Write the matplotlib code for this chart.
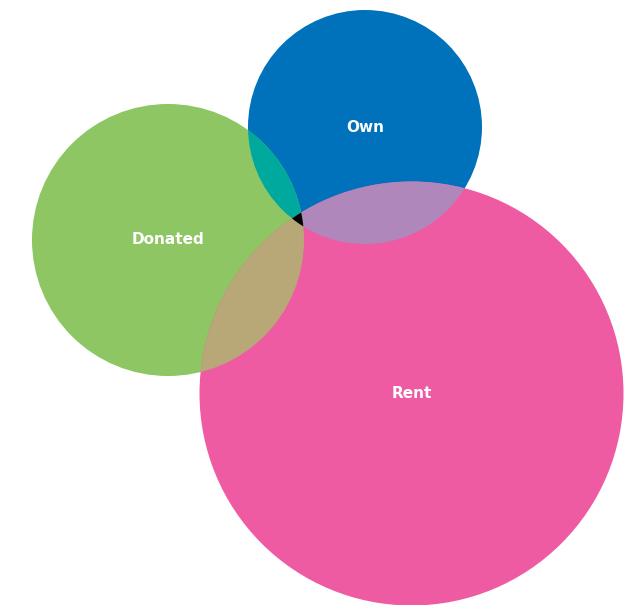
import matplotlib
matplotlib.use("Agg")
import matplotlib.pyplot as plt
import numpy as np
from matplotlib.patches import Circle, Polygon

# circles in pixel coordinates of the reference picture
names = ["Own", "Donated", "Rent"]
centers_x = [365, 168, 411.5]
centers_y = [127, 240, 393.5]
radii = [117, 136, 212]
colors = ["#0072bc", "#8dc663", "#ee5ba2"]

# overlap colours: (i, j) pairs
pairs = [(0, 1), (0, 2), (1, 2)]
pair_colors = ["#00a99d", "#b087ba", "#b8a878"]
triple_color = "#000000"


def inside(px, py, k):
    return (px - centers_x[k]) ** 2 + (py - centers_y[k]) ** 2 <= radii[k] ** 2 + 1e-6


def triple_region():
    pts = []
    t = np.linspace(0, 2 * np.pi, 4000)
    for k in range(3):
        xs = centers_x[k] + radii[k] * np.cos(t)
        ys = centers_y[k] + radii[k] * np.sin(t)
        others = [o for o in range(3) if o != k]
        m = inside(xs, ys, others[0]) & inside(xs, ys, others[1])
        pts.extend(zip(xs[m], ys[m]))
    pts = np.array(pts)
    c = pts.mean(axis=0)
    order = np.argsort(np.arctan2(pts[:, 1] - c[1], pts[:, 0] - c[0]))
    return pts[order]


fig = plt.figure(figsize=(6.4, 6.05), dpi=100)
ax = fig.add_axes([0, 0, 1, 1])
ax.set_xlim(0, 640)
ax.set_ylim(605, 0)
ax.set_aspect("equal")
ax.axis("off")

circles = []
for k in range(3):
    c = Circle((centers_x[k], centers_y[k]), radii[k], facecolor=colors[k], edgecolor="none")
    ax.add_patch(c)
    circles.append(c)

for (i, j), col in zip(pairs, pair_colors):
    p = Circle((centers_x[j], centers_y[j]), radii[j], facecolor=col, edgecolor="none", zorder=2)
    ax.add_patch(p)
    p.set_clip_path(circles[i])

tri = triple_region()
if len(tri) > 2:
    ax.add_patch(Polygon(tri, closed=True, facecolor=triple_color, edgecolor="none", zorder=3))

for k in range(3):
    ax.text(centers_x[k], centers_y[k], names[k], color="white", fontsize=11,
            fontweight="bold", ha="center", va="center", zorder=4)

fig.savefig("out.png", dpi=100)
